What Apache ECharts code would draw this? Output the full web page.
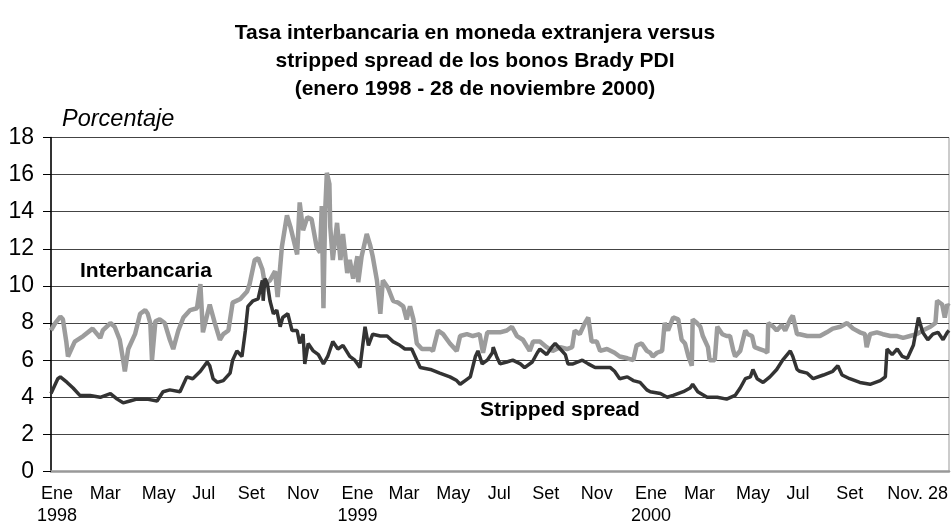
<!DOCTYPE html>
<html>
<head>
<meta charset="utf-8">
<script src="https://cdn.jsdelivr.net/npm/echarts@6/dist/echarts.min.js"></script>
<style>
html,body{margin:0;padding:0;background:#fff;}
#chart{width:951px;height:528px;}
</style>
</head>
<body>
<div id="chart"></div>
<script>
// Días transcurridos desde el 1 de enero de 1998 (hasta 28 nov 2000 = día 1058)
var interbancariaDia = [0,5,11,14,18,20,22,28,38,49,58,61,70,75,81,85,87,91,99,105,111,114,117,119,123,128,134,140,144,150,156,164,172,176,179,187,193,199,203,209,214,223,231,234,240,244,249,252,258,264,267,272,278,282,290,293,297,302,307,313,317,319,321,323,325,328,329,332,337,341,344,349,352,356,361,362,366,372,376,379,384,388,391,397,403,409,415,419,423,427,431,437,447,450,456,462,470,478,482,490,497,505,509,514,521,529,537,543,549,556,564,568,576,584,591,600,608,614,617,623,629,633,637,643,647,655,664,670,679,686,690,696,702,706,709,714,720,723,727,733,739,743,747,751,755,756,761,765,768,774,776,782,785,791,796,800,804,806,812,818,821,826,829,835,841,844,845,851,855,861,865,871,874,879,882,891,898,906,914,921,930,938,945,953,959,961,965,973,980,989,997,1004,1012,1020,1027,1036,1042,1044,1050,1053,1056,1058];
var interbancariaTasa = [7.6,8.0,8.35,8.2,7.0,6.2,6.1,7.0,7.3,7.7,7.2,7.6,8.0,7.8,7.1,6.0,5.4,6.6,7.4,8.5,8.7,8.5,8.0,6.0,8.1,8.2,8.0,7.1,6.6,7.6,8.3,8.7,8.8,10.1,7.5,9.0,8.0,7.1,7.4,7.6,9.1,9.3,9.7,10.1,11.4,11.5,10.9,10.1,10.3,10.8,9.4,12.1,13.8,13.2,11.7,14.5,13.0,13.7,13.6,12.1,11.8,14.3,8.8,14.0,16.1,15.5,13.2,11.4,13.4,11.4,12.8,10.7,11.4,10.4,11.6,10.2,11.6,12.8,12.2,11.6,10.3,8.5,10.3,9.9,9.2,9.1,8.9,8.2,8.9,8.2,6.9,6.6,6.6,6.5,7.6,7.4,6.9,6.5,7.3,7.4,7.3,7.4,6.4,7.5,7.5,7.5,7.6,7.8,7.3,7.1,6.5,7.0,7.0,6.7,6.5,6.7,6.6,6.7,7.6,7.4,8.0,8.3,7.0,7.0,6.5,6.6,6.4,6.2,6.1,6.0,6.8,6.9,6.5,6.4,6.2,6.4,6.5,8.0,7.6,8.3,8.2,7.1,6.9,6.2,5.7,8.2,8.0,7.8,7.3,6.7,6.0,6.0,7.8,7.4,7.3,7.3,6.5,6.2,6.5,7.6,7.4,7.3,6.7,6.6,6.5,6.4,8.0,7.8,7.6,7.9,7.6,8.2,8.4,7.4,7.4,7.3,7.3,7.3,7.5,7.7,7.8,8.0,7.7,7.5,7.4,6.7,7.4,7.5,7.4,7.3,7.3,7.2,7.3,7.4,7.6,7.8,8.0,9.2,9.0,8.3,9.0,8.9];

var strippedDia = [0,5,8,11,19,26,34,46,58,70,78,85,93,101,113,125,132,140,152,160,167,176,184,187,191,196,203,211,214,219,225,229,232,238,244,249,250,252,255,258,262,266,270,273,279,284,290,293,297,299,303,309,315,321,326,332,338,344,352,358,364,370,374,379,388,396,403,411,417,425,431,435,447,458,470,478,482,488,494,500,503,508,514,520,521,525,529,537,544,553,558,567,573,576,584,590,594,600,606,609,615,626,633,641,650,659,664,670,679,686,694,702,706,718,726,733,745,753,756,762,773,785,796,806,812,818,824,827,832,839,847,855,862,871,874,879,882,891,898,910,921,927,932,941,953,965,977,983,985,991,997,1003,1009,1016,1022,1027,1033,1039,1045,1051,1056,1058];
var strippedSpread = [4.2,4.7,5.0,5.1,4.8,4.5,4.1,4.1,4.0,4.2,3.9,3.7,3.8,3.9,3.9,3.8,4.3,4.4,4.3,5.1,5.0,5.4,5.9,5.7,5.0,4.8,4.9,5.3,6.0,6.5,6.2,7.6,8.9,9.2,9.3,10.3,9.2,10.4,10.1,9.2,8.5,8.7,7.8,8.3,8.5,7.6,7.6,6.9,7.4,5.8,6.9,6.5,6.3,5.8,6.2,7.0,6.6,6.8,6.2,6.0,5.6,7.8,6.8,7.4,7.3,7.3,7.0,6.8,6.6,6.6,6.0,5.6,5.5,5.3,5.1,4.9,4.7,4.9,5.1,6.2,6.5,5.8,6.0,6.4,6.7,6.2,5.8,5.9,6.0,5.8,5.6,5.9,6.4,6.6,6.3,6.7,6.9,6.6,6.3,5.8,5.8,6.0,5.8,5.6,5.6,5.6,5.4,5.0,5.1,4.9,4.8,4.4,4.3,4.2,4.0,4.1,4.3,4.5,4.7,4.3,4.0,4.0,3.9,4.1,4.5,5.0,5.1,5.5,5.0,4.8,5.1,5.5,6.0,6.5,6.2,5.5,5.4,5.3,5.0,5.2,5.4,5.7,5.2,5.0,4.8,4.7,4.9,5.1,6.6,6.3,6.6,6.2,6.1,6.8,8.3,7.5,7.1,7.4,7.5,7.1,7.5,7.6];

// Etiquetas del eje horizontal (posición en días y texto)
var tickDias = [7,64,127,180,236,297,361,416,474,528,583,643,707,764,827,880,941,1021];
var tickTextos = ['Ene\n1998','Mar','May','Jul','Set','Nov','Ene\n1999','Mar','May','Jul','Set','Nov','Ene\n2000','Mar','May','Jul','Set','Nov. 28'];

var yTicks = [0,2,4,6,8,10,12,14,16,18];

function pares(xs, ys){ var out=[]; for (var i=0;i<xs.length;i++) out.push([xs[i], ys[i]]); return out; }

var FONT = '"Liberation Sans", Arial, sans-serif';
var chart = echarts.init(document.getElementById('chart'), null, {renderer:'canvas'});
chart.setOption({
  animation: false,
  backgroundColor: '#ffffff',
  title: {
    text: 'Tasa interbancaria en moneda extranjera versus\nstripped spread de los bonos Brady PDI\n(enero 1998 - 28 de noviembre 2000)',
    left: 470,
    top: 14,
    textAlign: 'center',
    textStyle: { fontFamily: FONT, fontWeight: 'bold', fontSize: 21, lineHeight: 28, color: '#000' }
  },
  grid: { left: 51, right: 2, top: 137.5, bottom: 56.5, show: true, borderColor: '#999', borderWidth: 1, outerBoundsMode: 'none' },
  xAxis: {
    type: 'value', min: 0, max: 1058,
    axisLine: { show: true, onZero: false, lineStyle: { color: '#999', width: 2.5 } },
    axisTick: { show: false },
    splitLine: { show: false },
    axisLabel: {
      customValues: tickDias,
      formatter: function(v){ var i = tickDias.indexOf(v); return i >= 0 ? tickTextos[i] : ''; },
      fontFamily: FONT, fontSize: 18, color: '#000', lineHeight: 22, margin: 12, align: 'center'
    }
  },
  yAxis: {
    type: 'value', min: 0, max: 18, interval: 2,
    axisLine: { show: true, lineStyle: { color: '#000', width: 1.5 } },
    axisTick: { show: true, length: 8, lineStyle: { color: '#000' } },
    splitLine: { show: true, lineStyle: { color: '#444', width: 1 } },
    axisLabel: {
      customValues: yTicks,
      fontFamily: FONT, fontSize: 23, color: '#000', margin: 17
    }
  },
  series: [
    { name: 'Interbancaria', type: 'line', data: pares(interbancariaDia, interbancariaTasa), showSymbol: false, symbol: 'none',
      lineStyle: { color: '#9c9c9c', width: 4.5 }, z: 2 },
    { name: 'Stripped spread', type: 'line', data: pares(strippedDia, strippedSpread), showSymbol: false, symbol: 'none',
      lineStyle: { color: '#333333', width: 3.5 }, z: 3 }
  ],
  graphic: [
    { type: 'text', left: 62, top: 108, style: { text: 'Porcentaje', fontFamily: FONT, fontStyle: 'italic', fontSize: 23.5, fill: '#000' } },
    { type: 'text', left: 80, top: 261, style: { text: 'Interbancaria', fontFamily: FONT, fontWeight: 'bold', fontSize: 21, fill: '#000' } },
    { type: 'text', left: 480, top: 400, style: { text: 'Stripped spread', fontFamily: FONT, fontWeight: 'bold', fontSize: 21, fill: '#000' } }
  ]
});
</script>
</body>
</html>
